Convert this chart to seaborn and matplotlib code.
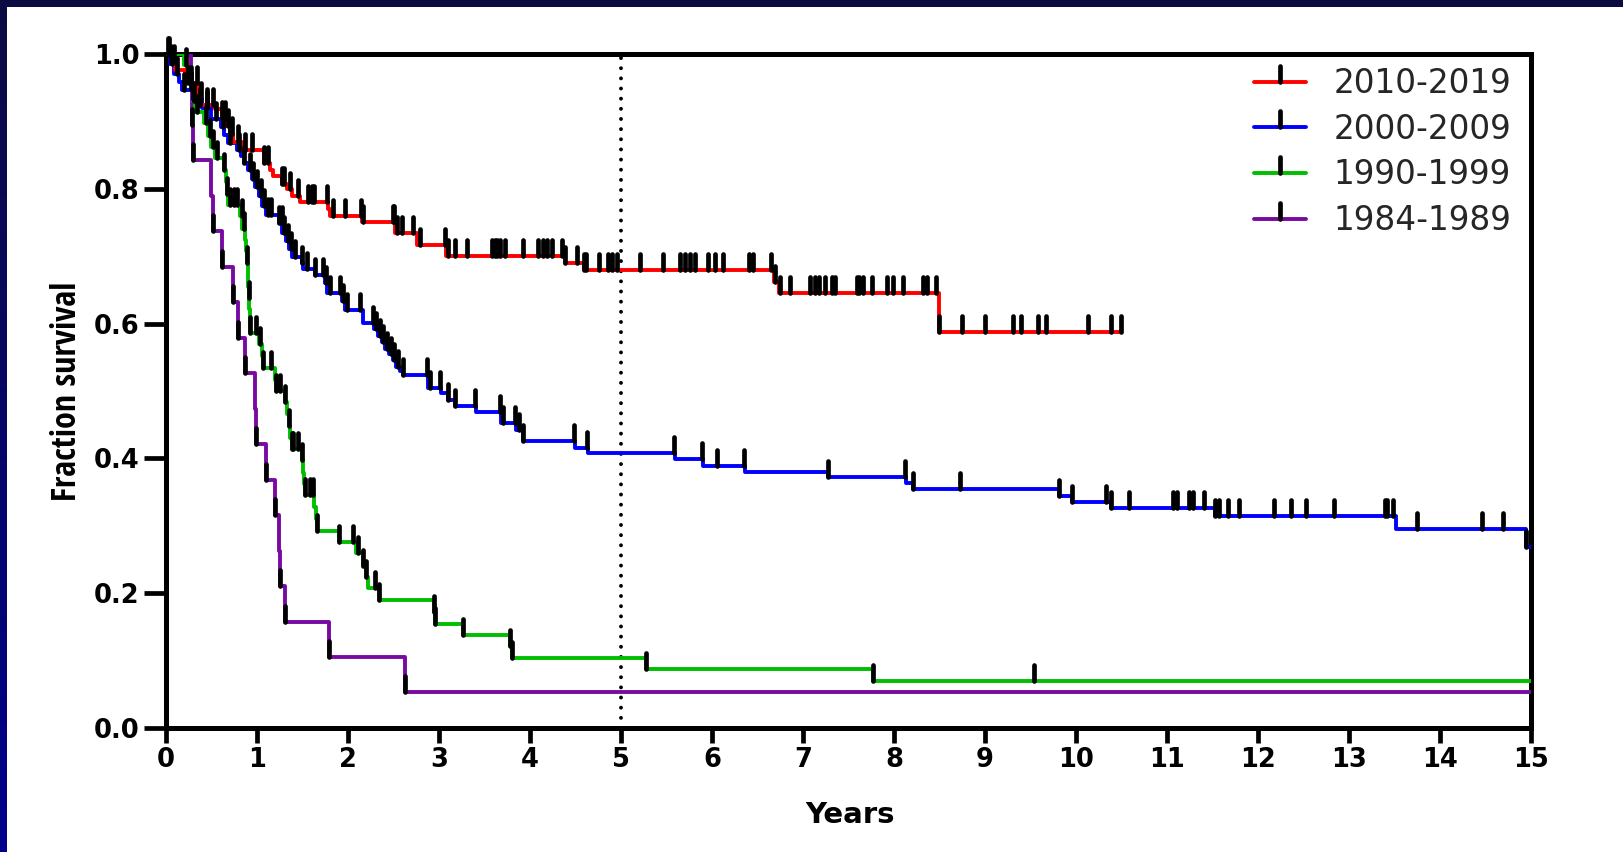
import numpy as np
import pandas as pd
import matplotlib
matplotlib.use("Agg")
import matplotlib.pyplot as plt
from matplotlib.lines import Line2D
from matplotlib.markers import MarkerStyle
from matplotlib.patches import Rectangle
import seaborn as sns

cohorts = ["2010-2019", "2000-2009", "1990-1999", "1984-1989"]
colors = ["#FF0000", "#0000FF", "#00BE00", "#780AA2"]

# Kaplan-Meier curves: drop times (years), survival after each drop,
# censored follow-up times, and the end of follow-up
t_2010 = [0.05, 0.10, 0.21, 0.35, 0.54, 0.62, 0.66, 0.70, 0.74, 0.84,
          1.08, 1.14, 1.18, 1.27, 1.33, 1.38, 1.47, 1.78, 1.80, 2.15,
          2.52, 2.76, 3.08, 4.38, 4.59, 6.68, 6.74, 8.49]
s_2010 = [0.988, 0.976, 0.957, 0.924, 0.918, 0.905, 0.893, 0.881, 0.870, 0.858,
          0.838, 0.828, 0.819, 0.807, 0.799, 0.790, 0.781, 0.770, 0.759, 0.751,
          0.734, 0.717, 0.701, 0.690, 0.679, 0.662, 0.646, 0.587]
c_2010 = [0.02, 0.05, 0.09, 0.24, 0.27, 0.34, 0.37, 0.45, 0.52, 0.62, 0.65,
          0.68, 0.72, 0.79, 0.87, 0.95, 1.08, 1.12, 1.27, 1.30, 1.36, 1.45,
          1.56, 1.60, 1.63, 1.77, 1.84, 1.97, 2.14, 2.16, 2.49, 2.51, 2.54,
          2.59, 2.71, 2.79, 3.07, 3.10, 3.18, 3.31, 3.58, 3.61, 3.64, 3.67,
          3.72, 3.92, 4.09, 4.14, 4.19, 4.24, 4.35, 4.38, 4.52, 4.59, 4.62,
          4.76, 4.86, 4.90, 4.96, 5.21, 5.46, 5.65, 5.70, 5.76, 5.81, 5.96,
          6.03, 6.12, 6.41, 6.45, 6.65, 6.69, 6.75, 6.86, 7.08, 7.13, 7.18,
          7.24, 7.32, 7.35, 7.59, 7.62, 7.66, 7.76, 7.92, 7.99, 8.10, 8.32,
          8.36, 8.46, 8.49, 8.75, 9.00, 9.31, 9.40, 9.58, 9.67, 10.13, 10.39,
          10.49]
end_2010 = 10.5

t_2000 = [0.04, 0.09, 0.14, 0.18, 0.30, 0.40, 0.49, 0.60, 0.64, 0.68,
          0.78, 0.82, 0.86, 0.90, 0.94, 0.98, 1.02, 1.06, 1.10, 1.24,
          1.28, 1.32, 1.35, 1.38, 1.49, 1.51, 1.64, 1.75, 1.77, 1.93,
          1.97, 2.16, 2.29, 2.33, 2.37, 2.41, 2.45, 2.49, 2.53, 2.57,
          2.60, 2.88, 3.02, 3.10, 3.18, 3.41, 3.68, 3.85, 3.92, 4.49,
          4.64, 5.59, 5.90, 6.36, 7.27, 8.13, 8.21, 9.81, 9.96, 10.38,
          11.53, 13.52, 14.95]
s_2000 = [0.985, 0.970, 0.958, 0.947, 0.933, 0.920, 0.904, 0.892, 0.880, 0.868,
          0.858, 0.849, 0.838, 0.828, 0.815, 0.803, 0.789, 0.775, 0.761, 0.749,
          0.735, 0.722, 0.710, 0.699, 0.690, 0.681, 0.672, 0.660, 0.646, 0.633,
          0.620, 0.601, 0.592, 0.582, 0.573, 0.563, 0.555, 0.546, 0.536, 0.530,
          0.523, 0.504, 0.497, 0.487, 0.478, 0.469, 0.452, 0.442, 0.426, 0.416,
          0.408, 0.399, 0.389, 0.380, 0.372, 0.363, 0.354, 0.344, 0.335, 0.326,
          0.315, 0.295, 0.269]
c_2000 = [0.03, 0.07, 0.12, 0.20, 0.30, 0.38, 0.45, 0.55, 0.63, 0.70, 0.80,
          0.86, 0.92, 0.96, 1.00, 1.04, 1.08, 1.12, 1.15, 1.24, 1.27, 1.30,
          1.34, 1.37, 1.42, 1.49, 1.55, 1.64, 1.73, 1.76, 1.80, 1.91, 1.95,
          1.99, 2.13, 2.27, 2.31, 2.35, 2.39, 2.43, 2.47, 2.51, 2.55, 2.60,
          2.87, 2.90, 3.01, 3.10, 3.18, 3.40, 3.67, 3.70, 3.84, 3.88, 3.92,
          4.48, 4.63, 5.58, 5.89, 6.05, 6.35, 7.27, 8.12, 8.21, 8.73, 9.81,
          9.96, 10.33, 10.39, 10.58, 11.07, 11.11, 11.24, 11.29, 11.41, 11.53,
          11.57, 11.67, 11.79, 12.18, 12.36, 12.53, 12.84, 13.40, 13.42, 13.48,
          13.75, 14.46, 14.69, 14.95]
end_2000 = 15.0

t_1990 = [0.20, 0.23, 0.27, 0.30, 0.32, 0.42, 0.46, 0.50, 0.54, 0.64,
          0.66, 0.67, 0.68, 0.81, 0.84, 0.87, 0.88, 0.89, 0.90, 0.905,
          0.91, 0.915, 0.92, 0.925, 1.02, 1.05, 1.07, 1.20, 1.21, 1.31,
          1.33, 1.35, 1.36, 1.38, 1.49, 1.51, 1.52, 1.53, 1.63, 1.65,
          1.66, 1.90, 2.09, 2.16, 2.20, 2.22, 2.34, 2.94, 2.96, 3.26,
          3.78, 3.80, 5.27, 7.77]
s_1990 = [0.983, 0.966, 0.948, 0.931, 0.914, 0.897, 0.879, 0.862, 0.845, 0.828,
          0.810, 0.793, 0.776, 0.759, 0.741, 0.724, 0.707, 0.690, 0.672, 0.655,
          0.638, 0.621, 0.603, 0.586, 0.569, 0.552, 0.534, 0.517, 0.500, 0.483,
          0.466, 0.448, 0.431, 0.414, 0.397, 0.379, 0.362, 0.345, 0.328, 0.310,
          0.293, 0.276, 0.259, 0.241, 0.224, 0.207, 0.190, 0.172, 0.155, 0.138,
          0.121, 0.104, 0.087, 0.069]
c_1990 = [0.22, 0.27, 0.31, 0.34, 0.44, 0.48, 0.52, 0.56, 0.64, 0.67, 0.70,
          0.75, 0.78, 0.83, 0.86, 0.89, 0.91, 0.925, 0.99, 1.03, 1.07, 1.15,
          1.21, 1.25, 1.31, 1.35, 1.38, 1.40, 1.45, 1.50, 1.53, 1.58, 1.62,
          1.66, 1.90, 2.05, 2.11, 2.17, 2.20, 2.30, 2.34, 2.94, 2.96, 3.26,
          3.78, 3.80, 5.27, 7.77, 9.54]
end_1990 = 15.0

t_1984 = [0.28, 0.29, 0.30, 0.50, 0.52, 0.61, 0.74, 0.79, 0.87, 0.98,
          0.99, 1.10, 1.20, 1.24, 1.25, 1.31, 1.79, 2.63]
s_1984 = [0.947, 0.895, 0.842, 0.789, 0.737, 0.684, 0.632, 0.579, 0.526, 0.474,
          0.421, 0.368, 0.316, 0.263, 0.211, 0.158, 0.105, 0.053]
c_1984 = [0.29, 0.30, 0.52, 0.61, 0.74, 0.79, 0.87, 0.99, 1.10, 1.20, 1.25,
          1.31, 1.79, 2.63]
end_1984 = 15.0

x_ticks = list(range(0, 16))
y_ticks = [0.0, 0.2, 0.4, 0.6, 0.8, 1.0]

curves = {
    "2010-2019": (t_2010, s_2010, c_2010, end_2010),
    "2000-2009": (t_2000, s_2000, c_2000, end_2000),
    "1990-1999": (t_1990, s_1990, c_1990, end_1990),
    "1984-1989": (t_1984, s_1984, c_1984, end_1984),
}

sns.set_theme(style="ticks")
plt.rcParams["font.family"] = ["DejaVu Sans"]

frames = []
for name, (t, s, _, end) in curves.items():
    frames.append(pd.DataFrame({
        "years": [0.0] + list(t) + [end],
        "survival": [1.0] + list(s) + [s[-1]],
        "cohort": name,
    }))
steps = pd.concat(frames, ignore_index=True)

W, H = 1624, 852
fig = plt.figure(figsize=(W / 100, H / 100), dpi=100)
fig.patch.set_facecolor("white")

# navy frame strips
fig.patches.append(Rectangle((0, 1 - 7 / H), 1, 7 / H, transform=fig.transFigure,
                             facecolor="#0b0b42", edgecolor="none", zorder=0))
side = fig.add_axes([0, 0, 7 / W, 1])
side.imshow(np.linspace(0, 1, 200).reshape(-1, 1), aspect="auto",
            cmap=matplotlib.colors.LinearSegmentedColormap.from_list(
                "frame", ["#0b0b42", "#00008c"]))
side.set_axis_off()

ax = fig.add_axes([166 / W, 1 - 728 / H, 1365 / W, 674 / H])
ax.set_facecolor("white")

sns.lineplot(data=steps, x="years", y="survival", hue="cohort",
             hue_order=cohorts[::-1], palette=dict(zip(cohorts, colors)),
             drawstyle="steps-post", estimator=None, sort=False,
             linewidth=2.8, legend=False, ax=ax, zorder=3)

tick_marker = MarkerStyle(2, capstyle="round")
for name, (t, s, c, end) in curves.items():
    times = np.array([0.0] + list(t))
    levels = np.array([1.0] + list(s))
    idx = np.searchsorted(times, np.array(c), side="right") - 1
    ax.plot(c, levels[idx], linestyle="none", marker=tick_marker,
            markersize=11.5, markeredgewidth=3.4, color="black",
            clip_on=False, zorder=4)

ax.axvline(5, color="black", linewidth=2.8, linestyle=(0, (0.01, 2.6)),
           dash_capstyle="round", zorder=2)

ax.set_xlim(0, 15)
ax.set_ylim(0, 1.0)
ax.set_xticks(x_ticks)
ax.set_xticklabels([str(v) for v in x_ticks])
ax.set_yticks(y_ticks)
ax.set_yticklabels([f"{v:.1f}" for v in y_ticks])
for lbl in ax.get_xticklabels() + ax.get_yticklabels():
    lbl.set_fontweight("bold")
    lbl.set_fontsize(18.5)
    lbl.set_color("black")
ax.tick_params(axis="y", length=16, width=3.4, pad=3, colors="black")
ax.tick_params(axis="x", length=11, width=3.4, pad=3, colors="black")
for sp in ax.spines.values():
    sp.set_visible(True)
    sp.set_linewidth(3.6)
    sp.set_color("black")

ax.set_xlabel("Years", fontsize=21, fontweight="bold", color="black")
ax.xaxis.set_label_coords(0.501, -0.109)
ax.set_ylabel("Fraction survival", fontsize=24.5, fontweight="bold", color="black",
              family=["Open Sans Condensed", "Liberation Sans", "DejaVu Sans"])
ax.yaxis.set_label_coords(-0.060, 0.5)

handles = [Line2D([], [], color=c, linewidth=2.8, marker=tick_marker,
                  markersize=11.5, markeredgewidth=3.4, markeredgecolor="black")
           for c in colors]
ax.legend(handles, cohorts, loc="upper left",
          bbox_to_anchor=(1254 / W, 1 - 67 / H), bbox_transform=fig.transFigure,
          frameon=False, fontsize=23.5, handlelength=1.6, handletextpad=0.83,
          labelspacing=0.39, borderpad=0, borderaxespad=0, numpoints=1)

fig.savefig("out.png", dpi=100)
